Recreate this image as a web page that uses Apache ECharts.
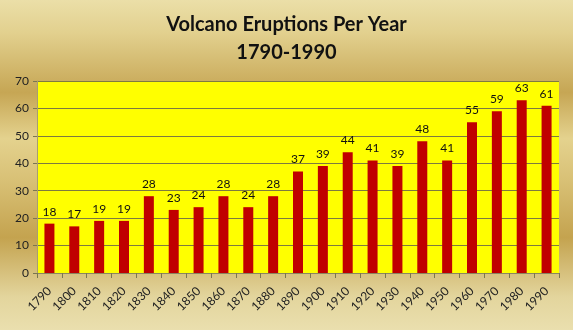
<!DOCTYPE html>
<html>
<head>
<meta charset="utf-8">
<script src="https://cdn.jsdelivr.net/npm/echarts@6/dist/echarts.min.js"></script>
<style>
  html, body { margin: 0; padding: 0; }
  #chart { width: 573px; height: 330px; }
</style>
</head>
<body>
<div id="chart"></div>
<script>
// Eruptions recorded per decade year
const years = ['1790','1800','1810','1820','1830','1840','1850','1860','1870','1880',
               '1890','1900','1910','1920','1930','1940','1950','1960','1970','1980','1990'];
const eruptions = [18, 17, 19, 19, 28, 23, 24, 28, 24, 28,
                   37, 39, 44, 41, 39, 48, 41, 55, 59, 63, 61];
const titleLines = ['Volcano Eruptions Per Year', '1790-1990'];

const chart = echarts.init(document.getElementById('chart'), null, { renderer: 'canvas' });

const fontFamily = 'Lato, "Open Sans", sans-serif';

chart.setOption({
  animation: false,
  backgroundColor: {
    type: 'linear', x: 0, y: 0, x2: 0, y2: 1,
    colorStops: [
      { offset: 0.00, color: '#EBDFA8' },
      { offset: 0.10, color: '#E2D08E' },
      { offset: 0.28, color: '#C6A654' },
      { offset: 0.42, color: '#E4D28E' },
      { offset: 0.55, color: '#D8C075' },
      { offset: 0.72, color: '#C4A34F' },
      { offset: 0.90, color: '#E3D59D' },
      { offset: 1.00, color: '#EADFAE' }
    ]
  },
  title: {
    text: titleLines.join('\n'),
    left: 'center',
    top: 6,
    textStyle: {
      fontFamily: fontFamily,
      fontWeight: 'bold',
      fontSize: 20,
      lineHeight: 28,
      color: '#111'
    }
  },
  grid: {
    left: 37, right: 14, top: 81, bottom: 57,
    show: true,
    backgroundColor: '#FFFF00',
    borderWidth: 0
  },
  xAxis: {
    type: 'category',
    data: years,
    boundaryGap: true,
    axisLine: { lineStyle: { color: '#8A8660', width: 1 } },
    axisTick: { show: true, length: 5, alignWithLabel: false, lineStyle: { color: '#7A7650' } },
    axisLabel: {
      rotate: 45,
      interval: 0,
      margin: 16,
      fontFamily: fontFamily,
      fontSize: 12,
      color: '#222'
    }
  },
  yAxis: {
    type: 'value',
    min: 0, max: 70, interval: 10,
    axisLine: { show: true, lineStyle: { color: '#A89E70' } },
    axisTick: { show: true, length: 4, lineStyle: { color: '#7A7650' } },
    splitLine: { lineStyle: { color: '#7E7A40', width: 1 } },
    axisLabel: {
      margin: 8,
      fontFamily: fontFamily,
      fontSize: 12,
      color: '#222'
    }
  },
  series: [{
    type: 'bar',
    data: eruptions,
    barWidth: 10,
    itemStyle: { color: '#C00000' },
    label: {
      show: true,
      position: 'top',
      distance: 6,
      fontFamily: fontFamily,
      fontSize: 12,
      color: '#111'
    }
  }]
});
</script>
</body>
</html>
